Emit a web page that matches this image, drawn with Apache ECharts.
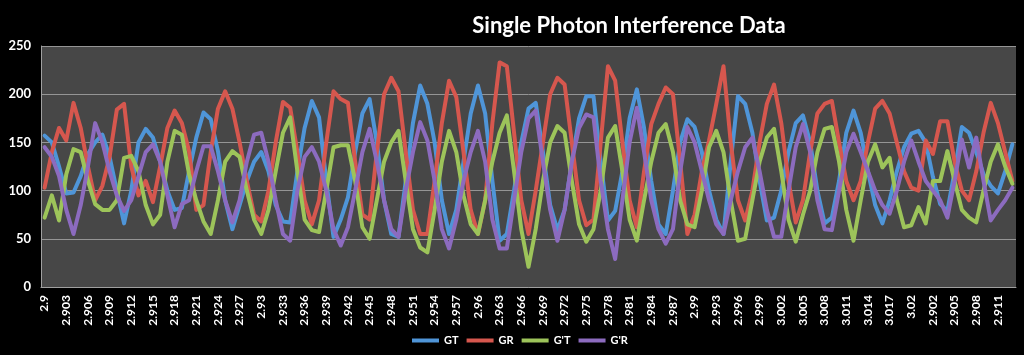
<!DOCTYPE html>
<html>
<head>
<meta charset="utf-8">
<style>
html,body{margin:0;padding:0;background:#000;}
#chart{width:1024px;height:355px;}
</style>
<script src="https://cdn.jsdelivr.net/npm/echarts@6/dist/echarts.min.js"></script>
</head>
<body>
<div id="chart"></div>
<script>
const categories = [
"2.9","2.901","2.902","2.903","2.904","2.905","2.906","2.907","2.908","2.909",
"2.91","2.911","2.912","2.913","2.914","2.915","2.916","2.917","2.918","2.919",
"2.92","2.921","2.922","2.923","2.924","2.925","2.926","2.927","2.928","2.929",
"2.93","2.931","2.932","2.933","2.934","2.935","2.936","2.937","2.938","2.939",
"2.94","2.941","2.942","2.943","2.944","2.945","2.946","2.947","2.948","2.949",
"2.95","2.951","2.952","2.953","2.954","2.955","2.956","2.957","2.958","2.959",
"2.96","2.961","2.962","2.963","2.964","2.965","2.966","2.967","2.968","2.969",
"2.97","2.971","2.972","2.973","2.974","2.975","2.976","2.977","2.978","2.979",
"2.98","2.981","2.982","2.983","2.984","2.985","2.986","2.987","2.988","2.989",
"2.99","2.991","2.992","2.993","2.994","2.995","2.996","2.997","2.998","2.999",
"3","3.001","3.002","3.003","3.004","3.005","3.006","3.007","3.008","3.009",
"3.01","3.011","3.012","3.013","3.014","3.015","3.016","3.017","3.018","3.019",
"3.02",
"2.9","2.901","2.902","2.903","2.904","2.905","2.906","2.907","2.908","2.909",
"2.91","2.911","2.912","2.913"
];

const GT = [
157,150,125,97,98,115,138,150,158,135,
100,66,100,150,164,155,130,100,80,82,
120,155,181,174,141,90,60,85,110,130,
140,120,85,68,67,120,165,193,176,110,
52,70,93,140,180,195,150,90,55,52,
110,170,209,190,150,90,55,80,130,180,
209,180,110,48,55,100,150,185,191,140,
85,59,80,130,175,198,198,130,69,79,
120,175,205,165,110,65,55,100,150,174,
166,140,100,70,55,130,198,190,160,110,
69,72,100,140,170,178,150,100,66,72,
110,160,183,160,120,85,66,90,120,145,
159,162,150,114,86,79,120,166,160,140,
117,105,97,120,148
];

const GR = [
103,140,165,152,191,165,125,90,105,135,
184,190,125,95,110,88,125,165,183,170,
141,80,85,140,185,203,185,150,110,75,
68,100,150,192,186,140,90,65,90,150,
203,195,191,130,75,70,140,200,217,203,
140,80,55,55,110,170,214,197,140,80,
55,90,170,233,229,160,90,55,100,150,
200,217,210,150,90,64,70,150,229,214,
150,90,62,120,169,190,207,200,130,55,
75,120,152,190,229,150,90,69,100,150,
190,210,170,110,67,90,140,180,190,193,
150,110,90,110,150,185,193,180,150,120,
103,100,152,138,172,172,130,100,90,120,
160,191,170,140,110
];

const GpT = [
72,95,69,117,143,140,110,86,80,80,
90,134,136,120,85,65,75,130,162,158,
117,90,68,55,90,130,141,135,100,70,
55,80,120,160,176,120,70,59,57,100,
145,147,147,110,62,50,90,130,150,162,
110,60,41,36,80,130,162,140,95,65,
55,90,130,160,178,120,60,21,60,110,
150,167,160,110,65,47,60,100,155,167,
120,70,48,90,130,160,169,140,90,65,
62,100,145,162,140,90,48,50,90,130,
155,164,120,70,47,75,100,140,164,166,
130,80,48,90,130,148,124,134,90,62,
64,83,66,110,110,141,110,80,72,67,
100,130,148,125,107
];

const GpR = [
145,135,115,80,55,85,125,170,150,120,
95,79,90,115,140,148,130,95,62,86,
90,120,146,146,120,90,67,90,130,158,
160,130,90,55,48,100,135,145,130,100,
60,43,62,100,140,164,130,90,60,52,
100,140,171,152,110,60,40,70,110,140,
162,130,70,40,40,90,140,175,183,130,
80,48,80,130,165,179,176,110,60,29,
90,150,186,140,90,60,45,60,120,166,
150,120,90,65,55,90,120,145,155,120,
80,52,52,100,145,169,140,90,60,59,
100,140,159,140,120,100,85,76,100,130,
152,130,110,100,90,72,110,153,124,155,
110,69,80,90,103
];

const seriesNames = ["GT","GR","G'T","G'R"];
const seriesColors = ["#4f95d8","#d6574e","#9dc45a","#8c6bbf"];
const yTicks = {min:0, max:250, interval:50};

const chart = echarts.init(document.getElementById('chart'), null, {renderer:'canvas'});
const dataSets = [GT, GR, GpT, GpR];
const font = 'Lato, "Open Sans", sans-serif';

chart.setOption({
  backgroundColor: '#000000',
  animation: false,
  title: {
    text: 'Single Photon Interference Data',
    left: 624, top: 10, textAlign: 'center',
    textStyle: {color:'#ffffff', fontSize:22, fontWeight:'bold', fontFamily: font}
  },
  legend: {
    data: seriesNames,
    left: 407, bottom: 4,
    icon: 'rect', itemWidth: 27, itemHeight: 4, itemGap: 8,
    textStyle: {color:'#ffffff', fontSize:11, fontWeight:'bold', fontFamily: font}
  },
  grid: {
    left: 41, right: 8, top: 46, bottom: 68,
    show: true, backgroundColor: '#474747', borderWidth: 0
  },
  xAxis: {
    type: 'category',
    data: categories,
    boundaryGap: true,
    axisLine: {show:true, lineStyle:{color:'#a0a0a0', width:1}},
    axisTick: {show:false},
    axisLabel: {
      interval: 2, rotate: 90, color:'#ffffff', fontSize:12, fontWeight:'bold',
      fontFamily: font, margin: 8
    },
    splitLine: {show:false}
  },
  yAxis: {
    type: 'value',
    min: yTicks.min, max: yTicks.max, interval: yTicks.interval,
    axisLine: {show:true, lineStyle:{color:'#a0a0a0', width:1}},
    axisTick: {show:false},
    axisLabel: {color:'#ffffff', fontSize:13, fontWeight:'bold', fontFamily: font, margin: 10},
    splitLine: {show:true, lineStyle:{color:'#959595', width:1}}
  },
  series: dataSets.map((d, k) => ({
    name: seriesNames[k],
    type: 'line',
    data: d,
    symbol: 'none',
    smooth: false,
    lineStyle: {width: 4, color: seriesColors[k], join: 'round', cap: 'round'},
    itemStyle: {color: seriesColors[k]}
  }))
});
</script>
</body>
</html>
